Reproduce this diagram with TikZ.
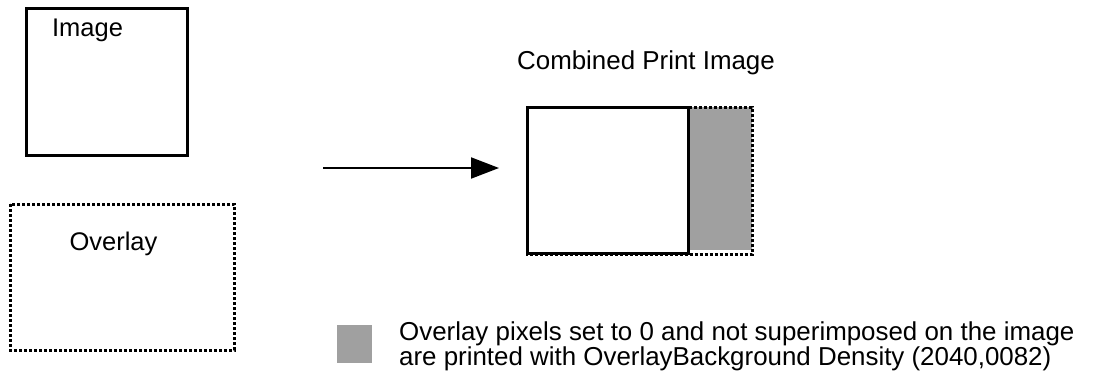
\documentclass[tikz,border=0pt]{standalone}
\usepackage{fontspec}
\setmainfont{Liberation Sans}
\usetikzlibrary{arrows.meta}
\definecolor{ovgray}{HTML}{A0A0A0}
\tikzset{
  solidbox/.style={draw=black, line width=3pt},
  dotbox/.style={draw=black, line width=3pt, dash pattern=on 3pt off 2pt},
  lbl/.style={font=\fontsize{25.5}{24}\selectfont, inner sep=0pt, anchor=base},
  lblw/.style={font=\fontsize{25.9}{24}\selectfont, inner sep=0pt, anchor=base west},
  arr/.style={line width=2pt, -{Triangle[length=28pt,width=21pt]}}
}
\begin{document}
\begin{tikzpicture}[x=1pt,y=-1pt]
\useasboundingbox (0,0) rectangle (1105,375);
% Image box
\draw[solidbox] (26,8) rectangle (187,155);
\node[lbl] (imglbl) at (87.5,36) {Image};
% Overlay box
\draw[dotbox] (10,204) rectangle (234,350);
\node[lbl] (ovlbl) at (113.5,250) {Overlay};
% Combined
\node[lbl, font=\fontsize{25.9}{24}\selectfont] (comblbl) at (646,69) {Combined Print Image};
\fill[ovgray] (688,107) rectangle (752,250);
\draw[dotbox] (527,107) rectangle (752,254.5);
\draw[solidbox] (527,107) rectangle (688,253);
% Arrow
\coordinate (a1) at (323,168);
\coordinate (a2) at (499,168);
\draw[arr] (a1) -- (a2);
% Legend
\fill[ovgray] (337,325) rectangle (372,363);
\node[lblw] (legA) at (399,340) {Overlay pixels set to 0 and not superimposed on the image};
\node[lblw] (legB) at (399,365.5) {are printed with OverlayBackground Density (2040,0082)};
\end{tikzpicture}
\end{document}
